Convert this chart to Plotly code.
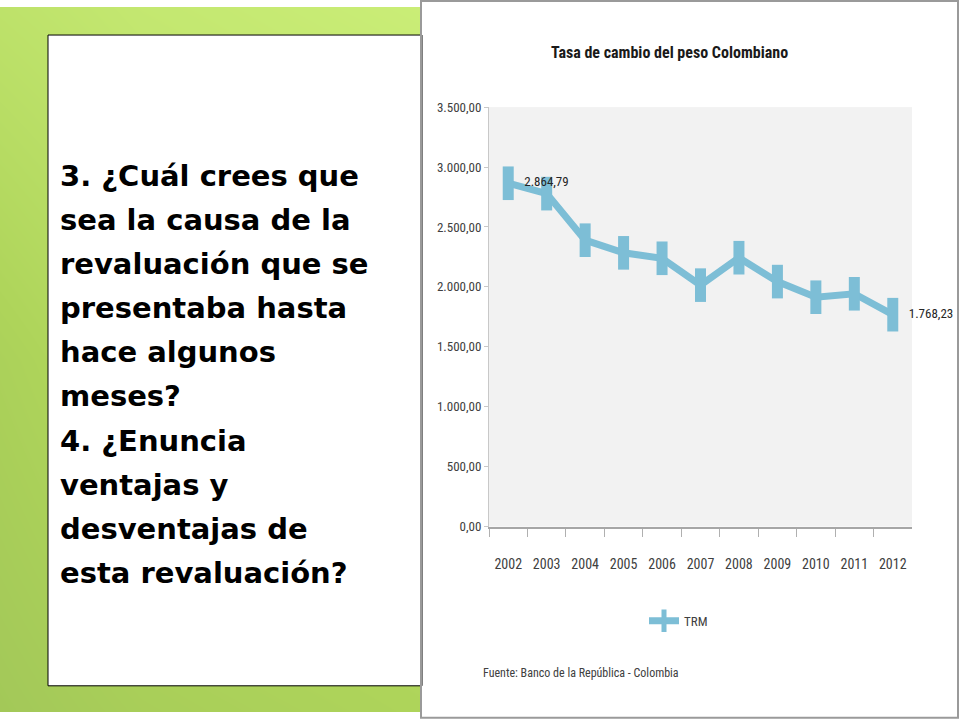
import plotly.graph_objects as go

# datos
anios = ["2002", "2003", "2004", "2005", "2006", "2007", "2008", "2009", "2010", "2011", "2012"]
trm = [2864.79, 2778.21, 2389.75, 2284.22, 2238.79, 2014.76, 2243.59, 2044.23, 1913.98, 1942.70, 1768.23]
etiquetas = ["2.864,79", "", "", "", "", "", "", "", "", "", "1.768,23"]

titulo = "Tasa de cambio del peso Colombiano"
fuente = "Fuente: Banco de la República - Colombia"
lineas = ["3. ¿Cuál crees que", "sea la causa de la", "revaluación que se", "presentaba hasta",
          "hace algunos", "meses?", "4. ¿Enuncia", "ventajas y", "desventajas de", "esta revaluación?"]

W, H = 960, 720
def px(x): return x / W
# la foto comprime un poco en vertical: se compensa
def py(y): return 1 - ((y - 7) / 0.978) / H

narrow = "Roboto Condensed, Liberation Sans Narrow, DejaVu Sans Condensed, sans-serif"
azul = "#7dbed6"

fig = go.Figure()

# fondo verde del diapositivo (degradado)
fig.add_trace(go.Heatmap(
    z=[[0.3, 0.4, 0.45, 0.5], [0.45, 0.62, 0.68, 0.7], [0.75, 0.85, 0.9, 0.95]],
    x=[0, 1, 2, 3], y=[0, 1, 2],
    colorscale=[[0, "#92b656"], [0.5, "#aed45a"], [1, "#cdf07a"]],
    zmin=0, zmax=1, zsmooth="best", showscale=False, hoverinfo="skip",
    xaxis="x2", yaxis="y2"))

fig.add_trace(go.Scatter(
    x=anios, y=trm, name="TRM", mode="lines+markers+text",
    line=dict(color=azul, width=7),
    marker=dict(symbol="line-ns", size=24, color=azul, line=dict(color=azul, width=11)),
    text=etiquetas, textposition="middle right",
    textfont=dict(family=narrow, size=13, color="#262626"),
    cliponaxis=False))

fig.update_layout(
    width=W, height=H, margin=dict(l=0, r=0, t=0, b=0),
    paper_bgcolor="white", plot_bgcolor="#f2f2f2",
    separators=",.",
    showlegend=True,
    legend=dict(x=px(644), y=py(620), xanchor="left", yanchor="middle", orientation="h",
                font=dict(family=narrow, size=13, color="#404040"), bgcolor="rgba(0,0,0,0)"),
    xaxis=dict(domain=[px(489), px(912)], type="category", range=[-0.5, 10.5],
               showline=True, linecolor="#a6a6a6", linewidth=2, showgrid=False,
               ticks="outside", tickson="boundaries", ticklen=8, tickcolor="#b0b0b0",
               ticklabelstandoff=24,
               tickfont=dict(family=narrow, size=14, color="#404040")),
    yaxis=dict(domain=[py(526), py(107)], range=[0, 3500], dtick=500, tickformat=",.2f",
               showline=True, linecolor="#c8c8c8", linewidth=1, showgrid=False,
               ticks="outside", ticklen=4, tickcolor="#c8c8c8", zeroline=False,
               tickfont=dict(family=narrow, size=13, color="#404040")),
    xaxis2=dict(domain=[0, px(422)], range=[0, 3], visible=False, fixedrange=True),
    yaxis2=dict(domain=[0, 1], range=[0, 2], visible=False, fixedrange=True),
)

formas = [
    dict(type="rect", xref="paper", yref="paper", x0=px(48), x1=px(422), y0=py(685), y1=py(35),
         fillcolor="white", line=dict(color="black", width=1), layer="above"),
    dict(type="rect", xref="paper", yref="paper", x0=px(421), x1=px(958), y0=py(717), y1=py(1),
         fillcolor="rgba(0,0,0,0)", line=dict(color="#9a9a9a", width=2), layer="above"),
]
fig.update_layout(shapes=formas)

anots = [
    dict(text="<b>" + titulo + "</b>", x=px(669), y=py(52), xref="paper", yref="paper",
         xanchor="center", yanchor="middle", showarrow=False,
         font=dict(family=narrow, size=16, color="#1a1a1a")),
    dict(text=fuente, x=px(481), y=py(672), xref="paper", yref="paper", xanchor="left",
         yanchor="middle", showarrow=False, font=dict(family=narrow, size=12, color="#404040")),
]
for i, t in enumerate(lineas):
    anots.append(dict(text="<b>" + t + "</b>", x=px(58), y=py(176 + 44 * i), xref="paper", yref="paper",
                      xanchor="left", yanchor="middle", showarrow=False,
                      font=dict(family="DejaVu Sans, sans-serif", size=29, color="black")))
fig.update_layout(annotations=anots)

js = ("document.body.style.margin='0';"
      "var d=document.querySelector('.plotly-graph-div');"
      "d.style.position='absolute';d.style.left='0px';d.style.top='0px';")
fig.write_html("out.html", post_script=js, config={"displayModeBar": False})
